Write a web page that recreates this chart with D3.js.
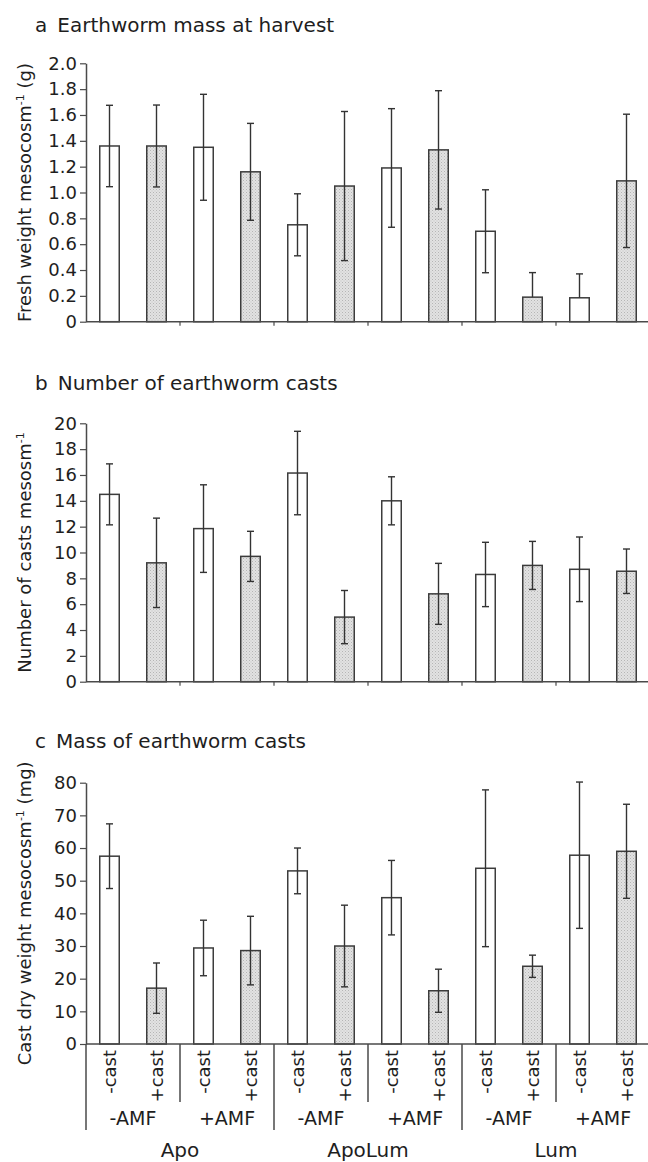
<!DOCTYPE html>
<html>
<head>
<meta charset="utf-8">
<script src="https://cdn.jsdelivr.net/npm/d3@7"></script>
<style>
  body { margin: 0; background: #fff; }
  text { font-family: "DejaVu Sans", sans-serif; fill: #1e1e1e; }
</style>
</head>
<body>
<div id="chart"></div>
<script>
// Treatments along the x axis
var castLabels = ["-cast", "+cast", "-cast", "+cast", "-cast", "+cast", "-cast", "+cast", "-cast", "+cast", "-cast", "+cast"],
    amfLabels = ["-AMF", "+AMF", "-AMF", "+AMF", "-AMF", "+AMF"],
    speciesLabels = ["Apo", "ApoLum", "Lum"];

// a: earthworm fresh weight (g), mean and SE
var massMean = [1.36, 1.36, 1.35, 1.16, 0.75, 1.05, 1.19, 1.33, 0.70, 0.19, 0.185, 1.09],
    massErr  = [0.315, 0.317, 0.41, 0.375, 0.24, 0.577, 0.459, 0.458, 0.321, 0.19, 0.185, 0.516];

// b: number of casts
var countMean = [14.5, 9.2, 11.85, 9.7, 16.15, 5.0, 14.0, 6.8, 8.3, 9.0, 8.7, 8.55],
    countErr  = [2.36, 3.46, 3.39, 1.94, 3.23, 2.06, 1.86, 2.36, 2.49, 1.86, 2.5, 1.72];

// c: cast dry weight (mg)
var castMean = [57.5, 17.1, 29.4, 28.6, 53.0, 30.0, 44.8, 16.3, 53.8, 23.8, 57.8, 59.0],
    castErr  = [9.9, 7.7, 8.5, 10.5, 7.0, 12.5, 11.4, 6.6, 24.0, 3.4, 22.4, 14.4];

// tick values
var massTicks = [0, 0.2, 0.4, 0.6, 0.8, 1.0, 1.2, 1.4, 1.6, 1.8, 2.0],
    countTicks = [0, 2, 4, 6, 8, 10, 12, 14, 16, 18, 20],
    castTicks = [0, 10, 20, 30, 40, 50, 60, 70, 80];

var W = 648, H = 1162,
    left = 86, right = 650,
    lineCol = "#4a4a4a";

var svg = d3.select("#chart").append("svg")
    .attr("width", W)
    .attr("height", H);

// stipple fill for the +cast bars
var pat = svg.append("defs").append("pattern")
    .attr("id", "stipple")
    .attr("patternUnits", "userSpaceOnUse")
    .attr("width", 3).attr("height", 3);
pat.append("rect").attr("width", 3).attr("height", 3).attr("fill", "#e2e2e2");
pat.append("rect").attr("x", 0).attr("y", 0).attr("width", 1).attr("height", 1).attr("fill", "#b5b5b5");
pat.append("rect").attr("x", 1.5).attr("y", 1.5).attr("width", 1).attr("height", 1).attr("fill", "#c4c4c4");

var x = d3.scaleBand()
    .domain(d3.range(castLabels.length))
    .range([left, right])
    .paddingInner(0.585)
    .paddingOuter(0.2925);
var step = x.step();

var panels = [
  {letter: "a", title: "Earthworm mass at harvest", titleY: 32, top: 63.3, bottom: 321.7,
   max: 2.0, ticks: massTicks, fmt: function(d) { return d === 0 ? "0" : d3.format(".1f")(d); },
   mean: massMean, err: massErr, label: ["Fresh weight mesocosm", "-1", " (g)"]},
  {letter: "b", title: "Number of earthworm casts", titleY: 390, top: 423.3, bottom: 681.7,
   max: 20, ticks: countTicks, fmt: d3.format("d"),
   mean: countMean, err: countErr, label: ["Number of casts mesosm", "-1", ""]},
  {letter: "c", title: "Mass of earthworm casts", titleY: 748, top: 782.7, bottom: 1044,
   max: 80, ticks: castTicks, fmt: d3.format("d"),
   mean: castMean, err: castErr, label: ["Cast dry weight mesocosm", "-1", " (mg)"]}
];

panels.forEach(function(p, pi) {
  var y = d3.scaleLinear().domain([0, p.max]).range([p.bottom, p.top]);
  var g = svg.append("g");
  var rows = p.mean.map(function(v, i) { return {i: i, v: v, hi: v + p.err[i], lo: v - p.err[i]}; });

  // title
  var t = g.append("text")
      .attr("x", 35)
      .attr("y", p.titleY)
      .style("font-size", "20px");
  t.append("tspan").text(p.letter);
  t.append("tspan").attr("dx", 10).text(p.title);

  // bars
  g.selectAll("rect.bar")
    .data(rows).enter().append("rect")
      .attr("class", "bar")
      .attr("x", function(d) { return x(d.i); })
      .attr("y", function(d) { return y(d.v); })
      .attr("width", x.bandwidth())
      .attr("height", function(d) { return y(0) - y(d.v); })
      .attr("fill", function(d) { return d.i % 2 ? "url(#stipple)" : "#fff"; })
      .attr("stroke", "#3c3c3c")
      .attr("stroke-width", 1.5);

  // error bars (lower half dropped when it reaches zero)
  var eb = g.selectAll("g.err")
    .data(rows).enter().append("g")
      .attr("class", "err")
      .attr("transform", function(d) { return "translate(" + (x(d.i) + x.bandwidth() / 2) + ",0)"; });
  eb.append("line")
      .attr("y1", function(d) { return d.lo > 0 ? y(d.lo) : y(d.v); })
      .attr("y2", function(d) { return y(d.hi); });
  eb.append("line")
      .attr("x1", -3.5).attr("x2", 3.5)
      .attr("y1", function(d) { return y(d.hi); })
      .attr("y2", function(d) { return y(d.hi); });
  eb.filter(function(d) { return d.lo > 0; })
    .append("line")
      .attr("x1", -3.5).attr("x2", 3.5)
      .attr("y1", function(d) { return y(d.lo); })
      .attr("y2", function(d) { return y(d.lo); });
  eb.selectAll("line").attr("stroke", "#333").attr("stroke-width", 1.4);

  // y axis
  var ya = g.append("g")
      .attr("transform", "translate(" + left + ",0)")
      .call(d3.axisLeft(y).tickValues(p.ticks).tickFormat(p.fmt).tickSize(6).tickSizeOuter(0));
  ya.select(".domain").attr("stroke", lineCol).attr("stroke-width", 1.5);
  ya.selectAll(".tick line").attr("stroke", lineCol).attr("stroke-width", 1.2);
  ya.selectAll(".tick text")
      .attr("x", -9)
      .style("font-size", "18px")
      .style("font-family", "DejaVu Sans, sans-serif")
      .attr("fill", "#1e1e1e");

  // y label
  var yl = g.append("text")
      .attr("transform", "translate(31," + ((p.top + p.bottom) / 2) + ") rotate(-90)")
      .attr("text-anchor", "middle")
      .style("font-size", "18px");
  yl.append("tspan").text(p.label[0]);
  yl.append("tspan").attr("dy", -7).style("font-size", "11px").text(p.label[1]);
  yl.append("tspan").attr("dy", 7).text(p.label[2]);

  // x axis line
  g.append("line")
      .attr("x1", left).attr("x2", right)
      .attr("y1", y(0)).attr("y2", y(0))
      .attr("stroke", lineCol).attr("stroke-width", 1.5);

  if (pi < 2) {
    // small ticks between -AMF/+AMF pairs
    g.selectAll("line.xt")
      .data(d3.range(1, 6)).enter().append("line")
        .attr("x1", function(d) { return left + d * 2 * step; })
        .attr("x2", function(d) { return left + d * 2 * step; })
        .attr("y1", y(0)).attr("y2", y(0) + 4)
        .attr("stroke", lineCol).attr("stroke-width", 1.2);
  } else {
    var base = y(0);
    // separators: short between AMF pairs, long between species
    g.selectAll("line.sep")
      .data(d3.range(0, 7)).enter().append("line")
        .attr("x1", function(d) { return left + d * 2 * step; })
        .attr("x2", function(d) { return left + d * 2 * step; })
        .attr("y1", base)
        .attr("y2", function(d) { return d % 2 ? base + 58 : base + 86; })
        .attr("stroke", lineCol).attr("stroke-width", 1.5);

    // -cast / +cast
    g.selectAll("text.cast")
      .data(castLabels).enter().append("text")
        .attr("transform", function(d, i) {
          return "translate(" + (x(i) + x.bandwidth() / 2) + "," + (base + 6) + ") rotate(-90)";
        })
        .attr("text-anchor", "end")
        .attr("dy", "0.35em")
        .style("font-size", "18px")
        .text(function(d) { return d; });

    // AMF
    g.selectAll("text.amf")
      .data(amfLabels).enter().append("text")
        .attr("x", function(d, i) { return left + (i * 2 + 1) * step; })
        .attr("y", base + 81)
        .attr("text-anchor", "middle")
        .style("font-size", "19px")
        .text(function(d) { return d; });

    // species
    g.selectAll("text.sp")
      .data(speciesLabels).enter().append("text")
        .attr("x", function(d, i) { return left + (i * 4 + 2) * step; })
        .attr("y", base + 113)
        .attr("text-anchor", "middle")
        .style("font-size", "20px")
        .text(function(d) { return d; });
  }
});
</script>
</body>
</html>
